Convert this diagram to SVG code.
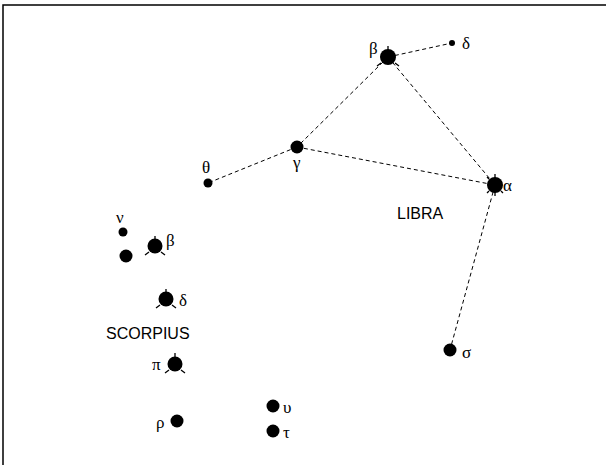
<svg xmlns="http://www.w3.org/2000/svg" width="606" height="465" viewBox="0 0 606 465">
<style>
.star{fill:#000}
.tick{stroke:#000;stroke-width:1.3}
.con{stroke:#000;stroke-width:1;stroke-dasharray:4 3;fill:none}
.g{font-family:"Liberation Serif","DejaVu Serif",serif;font-size:17px;fill:#000}
.n{font-family:"Liberation Sans","DejaVu Sans",sans-serif;font-size:16px;fill:#000}
</style>
<rect width="606" height="465" fill="#fff"/>
<path d="M3,465 V5 H606" fill="none" stroke="#000" stroke-width="1.5"/>
<g id="connectors">
<line class="con" x1="388" y1="57" x2="452" y2="43"/>
<line class="con" x1="388" y1="57" x2="297" y2="147"/>
<line class="con" x1="388" y1="57" x2="495" y2="185"/>
<line class="con" x1="297" y1="147" x2="208" y2="183"/>
<line class="con" x1="297" y1="147" x2="495" y2="185"/>
<line class="con" x1="495" y1="185" x2="450" y2="350"/>
</g>
<g id="lib-beta"><circle class="star" cx="388" cy="57" r="8"/><path class="tick" d="M388,46v4M381,63l-4,3M395,63l4,3"/><text class="g" x="369" y="54">β</text></g>
<g id="lib-delta"><circle class="star" cx="452" cy="43" r="3"/><text class="g" x="462" y="49">δ</text></g>
<g id="lib-gamma"><circle class="star" cx="297" cy="147" r="6.5"/><text class="g" x="293" y="168">γ</text></g>
<g id="lib-theta"><circle class="star" cx="208" cy="183" r="4.5"/><text class="g" x="202" y="173">θ</text></g>
<g id="lib-alpha"><circle class="star" cx="495" cy="185" r="8"/><path class="tick" d="M495,174v4M487,177l2,2M487,193l2,-2M495,196v-4M503,193l-2,-2"/><text class="g" x="503" y="191">α</text></g>
<g id="lib-sigma"><circle class="star" cx="450" cy="350" r="6.5"/><text class="g" x="462" y="358">σ</text></g>
<g id="libra-label"><text class="n" x="397" y="219">LIBRA</text></g>
<g id="sco-nu"><circle class="star" cx="123" cy="232" r="4.5"/><text class="g" x="116" y="223">ν</text></g>
<g id="sco-unnamed"><circle class="star" cx="126" cy="256" r="6.5"/></g>
<g id="sco-beta"><circle class="star" cx="155" cy="246" r="7.5"/><path class="tick" d="M155,236v4M149,252l-4,3M161,252l4,3"/><text class="g" x="166" y="246">β</text></g>
<g id="sco-delta"><circle class="star" cx="166" cy="299" r="7.5"/><path class="tick" d="M166,289v4M160,305l-4,3M172,305l4,3"/><text class="g" x="179" y="306">δ</text></g>
<g id="scorpius-label"><text class="n" x="106" y="339">SCORPIUS</text></g>
<g id="sco-pi"><circle class="star" cx="175" cy="364" r="7.5"/><path class="tick" d="M175,353v4M169,370l-4,3M181,370l4,3"/><text class="g" x="152" y="370">π</text></g>
<g id="sco-rho"><circle class="star" cx="177" cy="421" r="6.5"/><text class="g" x="156" y="428">ρ</text></g>
<g id="sco-upsilon"><circle class="star" cx="273" cy="406" r="6.5"/><text class="g" x="283" y="413">υ</text></g>
<g id="sco-tau"><circle class="star" cx="273" cy="431" r="6.5"/><text class="g" x="283" y="438">τ</text></g>
</svg>
